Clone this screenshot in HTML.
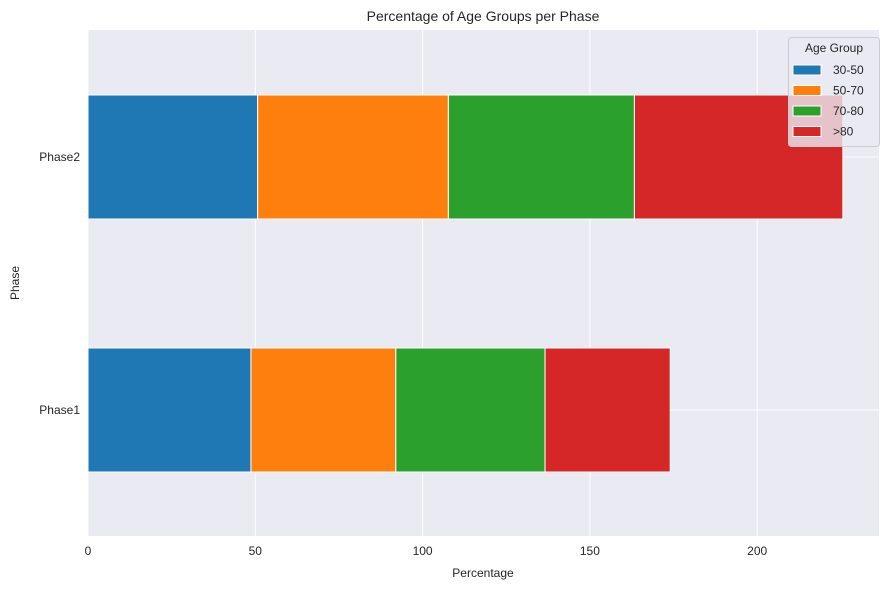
<!DOCTYPE html>
<html><head><meta charset="utf-8"><style>
body{margin:0;background:#fff;font-family:"Liberation Sans",sans-serif;}
svg text{font-family:"Liberation Sans",sans-serif;}
</style></head><body>
<svg id="chart" width="889" height="590" xmlns="http://www.w3.org/2000/svg">
<rect x="88" y="30" width="791" height="506" fill="#eaeaf2"/>
<g id="grid"></g><g id="bars"></g><g id="axes"></g>
<text x="483" y="21" text-anchor="middle" font-size="14" fill="#262626">Percentage of Age Groups per Phase</text>
<text x="483" y="577" text-anchor="middle" font-size="12" fill="#262626">Percentage</text>
<text x="19" y="283" text-anchor="middle" font-size="12" fill="#262626" transform="rotate(-90 19 283)">Phase</text>
<g id="legend">
<rect x="788.5" y="37.5" width="91" height="109" rx="3" fill="#eaeaf2" fill-opacity="0.8" stroke="#cccccc"/>
<text x="834" y="52" text-anchor="middle" font-size="12" fill="#262626">Age Group</text>
</g>
</svg>
<script>
const categories=["Phase1","Phase2"];
const seriesNames=["30-50","50-70","70-80",">80"];
const s3050=[48.7,50.7];
const s5070=[43.3,57.0];
const s7080=[44.6,55.6];
const s80=[37.4,62.3];
const xTicks=[0,50,100,150,200];
const series=[s3050,s5070,s7080,s80];
const colors=["#1f77b4","#ff7f0e","#2ca02c","#d62728"];
const NS="http://www.w3.org/2000/svg";
const x=v=>88+v*3.346;
const yCenter=i=>410-i*253;
const bh=124;
function mk(t,a,p){const e=document.createElementNS(NS,t);for(const k in a)e.setAttribute(k,a[k]);p.appendChild(e);return e;}
const grid=document.getElementById('grid'),bars=document.getElementById('bars'),axes=document.getElementById('axes');
xTicks.forEach(t=>{
const l=mk('line',{x1:x(t),x2:x(t),y1:30,y2:536,stroke:'#fff','stroke-width':1},grid);


const tx=mk('text',{x:x(t),y:555,'text-anchor':'middle','font-size':12,fill:'#262626'},axes);
tx.textContent=t;


});
categories.forEach((c,i)=>{
const l=mk('line',{x1:88,x2:879,y1:yCenter(i),y2:yCenter(i),stroke:'#fff','stroke-width':1},grid);


const tx=mk('text',{x:80,y:yCenter(i)+4,'text-anchor':'end','font-size':12,fill:'#262626'},axes);
tx.textContent=c;


let cum=0;
series.forEach((s,j)=>{
const r=mk('rect',{x:x(cum),y:yCenter(i)-bh/2,width:x(cum+s[i])-x(cum),height:bh,fill:colors[j],stroke:'#fff','stroke-width':1},bars);


cum+=s[i];
});
});
const lg=document.getElementById('legend');
seriesNames.forEach((n,j)=>{
const yy=70+j*20.5;
const r=mk('rect',{x:793,y:yy-5,width:28,height:10,fill:colors[j],stroke:'#fff','stroke-width':1},lg);


const t=mk('text',{x:833,y:yy+4,'font-size':12,fill:'#262626'},lg);
t.textContent=n;


});
</script>
</body></html>
